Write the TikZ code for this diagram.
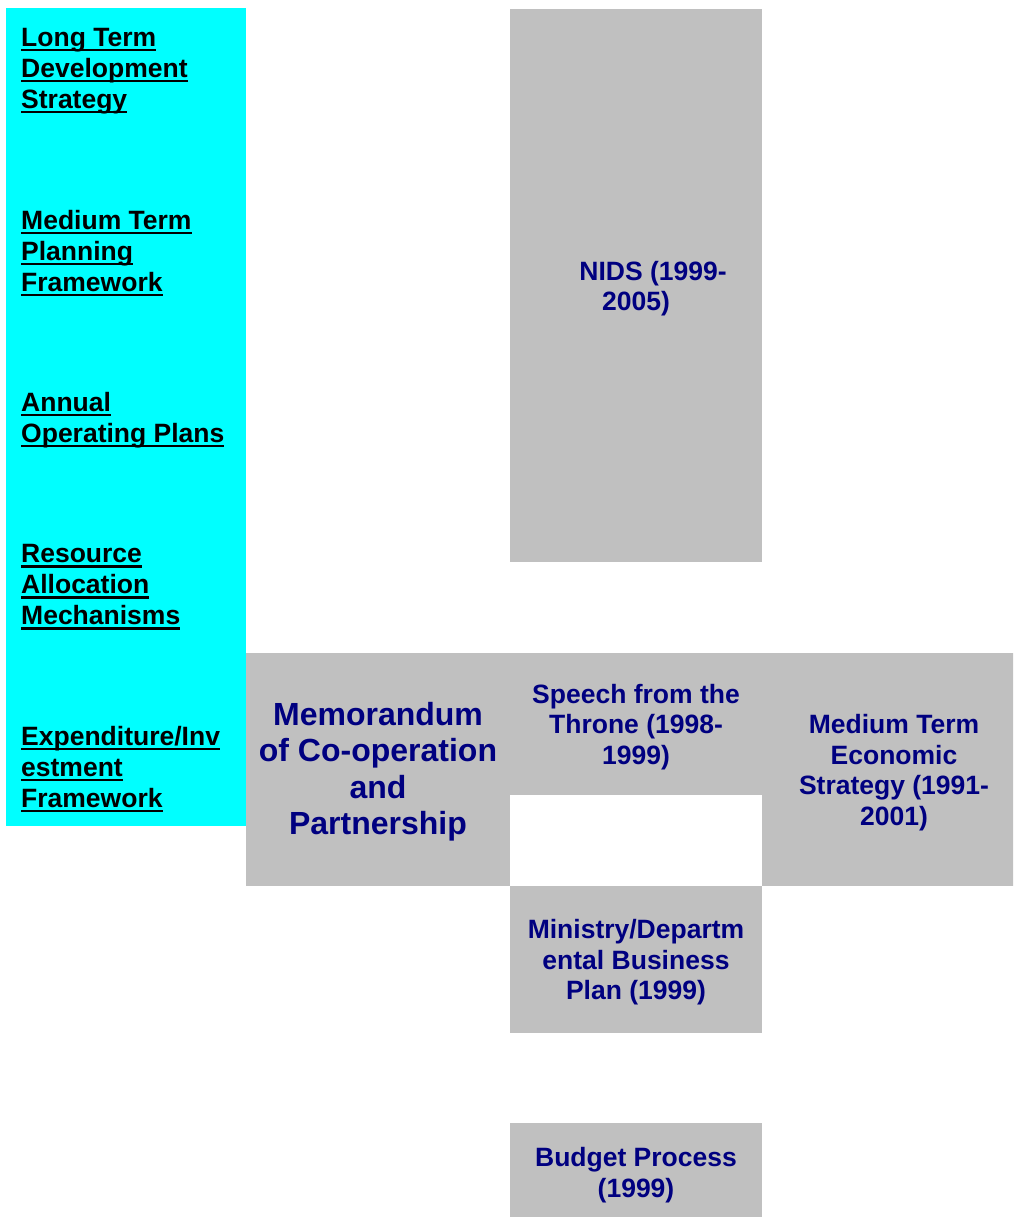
\documentclass[tikz,border=0pt]{standalone}
\usepackage{fontspec}
\setmainfont{Liberation Sans}

\definecolor{planCyan}{HTML}{00FFFF}
\definecolor{planGray}{HTML}{C0C0C0}
\definecolor{planNavy}{HTML}{000080}

% underline at a fixed depth, like a word processor does
\newcommand{\labelline}[1]{\setbox0\hbox{#1}\rlap{\rule[-5pt]{\wd0}{2.6pt}}\box0}
% extra room above the first line of a box text
\newcommand{\srcstrut}[1]{\rule{0pt}{#1}}

\begin{document}
\begin{tikzpicture}[x=1pt, y=-1pt,
    panel/.style={fill=planCyan, inner sep=0pt},
    level/.style={anchor=west, inner sep=0pt, align=left, font=\fontsize{26.5}{31}\selectfont\bfseries},
    source/.style={fill=planGray, inner sep=0pt, align=center, text=planNavy, font=\fontsize{26.5}{30.5}\selectfont\bfseries},
    bigSource/.style={source, font=\fontsize{32}{36.5}\selectfont\bfseries},
  ]
    \useasboundingbox (0,0) rectangle (1013,1217);
    \clip (0,0) rectangle (1013,1217);

    \node[panel, minimum width=240pt, minimum height=818pt] (panel) at (126,417) {};

    \node[level] (level_0) at (21,71) {\labelline{Long Term}\\ \labelline{Development}\\ \labelline{Strategy}};
    \node[level] (level_1) at (21,253) {\labelline{Medium Term}\\ \labelline{Planning}\\ \labelline{Framework}};
    \node[level] (level_2) at (21,420) {\labelline{Annual}\\ \labelline{Operating Plans}};
    \node[level] (level_3) at (21,587) {\labelline{Resource}\\ \labelline{Allocation}\\ \labelline{Mechanisms}};
    \node[level] (level_4) at (21,769) {\labelline{Expenditure/Inv}\\ \labelline{estment}\\ \labelline{Framework}};

    \node[source, minimum width=252pt, minimum height=553pt] (nids) at (636,285.5) {\srcstrut{25pt}\hspace*{34pt}NIDS (1999-\\ 2005)};
    \node[source, minimum width=252pt, minimum height=142pt] (speech) at (636,724) {\srcstrut{25pt}Speech from the\\ Throne (1998-\\ 1999)};
    \node[bigSource, minimum width=264pt, minimum height=233pt] (memo) at (378,769.5) {\srcstrut{28pt}Memorandum\\ of Co-operation\\ and\\ Partnership};
    \node[source, minimum width=264pt, minimum height=233pt] (mtes) at (894,769.5) {\srcstrut{25pt}Medium Term\\ Economic\\ Strategy (1991-\\ 2001)};
    \node[source, minimum width=252pt, minimum height=147pt] (ministry) at (636,959.5) {\srcstrut{25pt}Ministry/Departm\\ ental Business\\ Plan (1999)};
    \node[source, minimum width=252pt, minimum height=98pt] (budget) at (636,1172) {\srcstrut{25pt}Budget Process\\ (1999)};
  \end{tikzpicture}
\end{document}
